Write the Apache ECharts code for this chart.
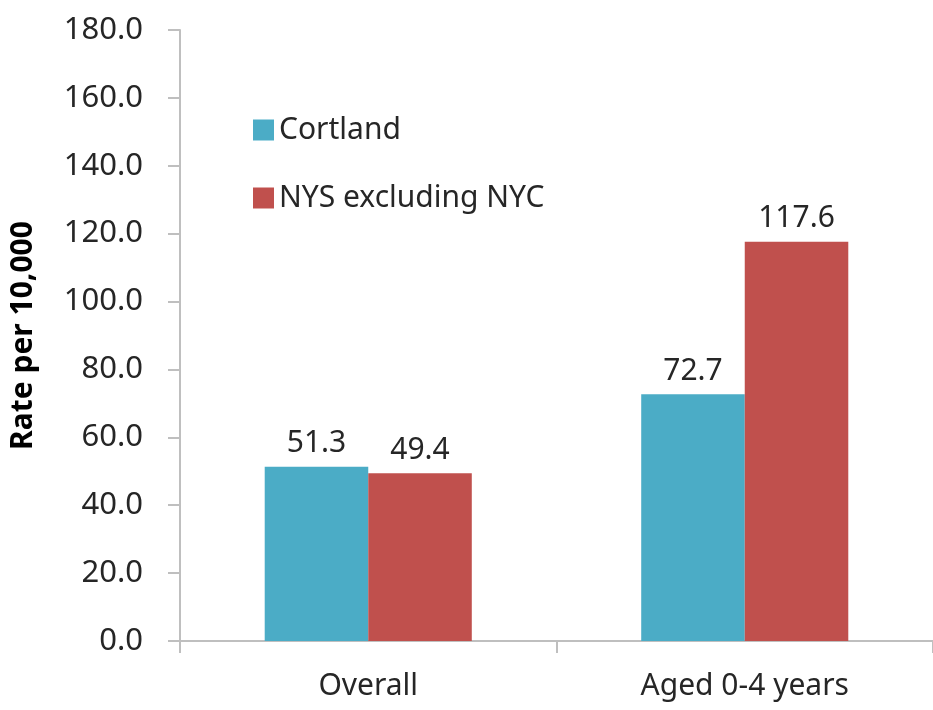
<!DOCTYPE html>
<html>
<head>
<meta charset="utf-8">
<script src="https://cdn.jsdelivr.net/npm/echarts@6/dist/echarts.min.js"></script>
<style>
  html, body { margin: 0; padding: 0; background: #fff; }
  #chart { width: 933px; height: 710px; }
</style>
</head>
<body>
<div id="chart"></div>
<script>
var categories = ['Overall', 'Aged 0-4 years']
var cortland = [51.3, 72.7]
var nysExNyc = [49.4, 117.6]
var seriesNames = ['Cortland', 'NYS excluding NYC']

var font = 'Noto Sans'
var textColor = '#262626'
var axisColor = '#bfbfbf'

var chart = echarts.init(document.getElementById('chart'))

var barLabel = {
  show: true,
  position: 'top',
  distance: 8,
  fontFamily: font,
  fontSize: 30,
  color: textColor,
  formatter: function (p) { return p.value.toFixed(1) }
}

var option = {
  animation: false,
  grid: { left: 180, top: 30, width: 766, height: 611 },
  legend: {
    orient: 'vertical',
    left: 248,
    top: 110,
    itemWidth: 21,
    itemHeight: 21,
    itemGap: 38,
    icon: 'rect',
    textStyle: { fontFamily: font, fontSize: 30, color: textColor },
    data: seriesNames
  },
  xAxis: {
    type: 'category',
    data: categories,
    axisLine: { lineStyle: { color: axisColor, width: 2 } },
    axisTick: { show: true, length: 12, lineStyle: { color: axisColor, width: 2 } },
    axisLabel: { fontFamily: font, fontSize: 30, color: textColor, margin: 30 }
  },
  yAxis: {
    type: 'value',
    min: 0,
    max: 180,
    interval: 20,
    name: 'Rate per 10,000',
    nameLocation: 'middle',
    nameGap: 142,
    nameTextStyle: { fontFamily: font, fontSize: 30, fontWeight: 'bold', color: '#000' },
    axisLine: { show: true, lineStyle: { color: axisColor, width: 2 } },
    axisTick: { show: true, length: 12, lineStyle: { color: axisColor, width: 2 } },
    splitLine: { show: false },
    axisLabel: {
      fontFamily: font,
      fontSize: 31,
      color: textColor,
      margin: 37,
      formatter: function (v) { return v.toFixed(1) }
    }
  },
  series: [
    {
      name: seriesNames[0],
      type: 'bar',
      data: cortland,
      barGap: '0%',
      barCategoryGap: '45%',
      itemStyle: { color: '#4BACC6' },
      label: barLabel
    },
    {
      name: seriesNames[1],
      type: 'bar',
      data: nysExNyc,
      itemStyle: { color: '#C0504D' },
      label: barLabel
    }
  ]
}

option && chart.setOption(option)
</script>
</body>
</html>
